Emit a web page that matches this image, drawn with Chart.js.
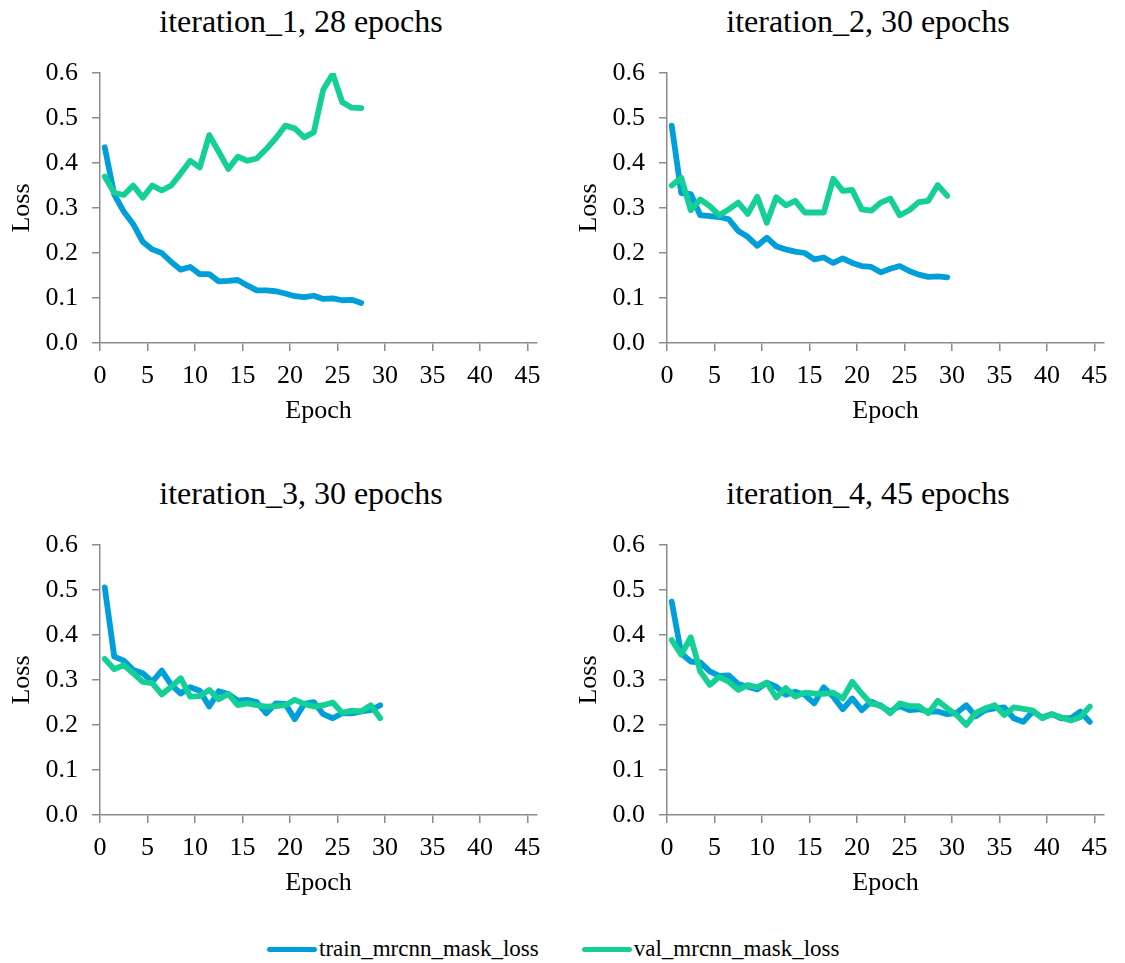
<!DOCTYPE html>
<html>
<head>
<meta charset="utf-8">
<title>Mask loss per iteration</title>
<script src="https://cdn.jsdelivr.net/npm/chart.js@4.4.1/dist/chart.umd.min.js"></script>
<style>
  html, body { margin: 0; padding: 0; background: #fff; overflow: hidden; }
  #page { position: relative; width: 1125px; height: 963px; }
  .panel { position: absolute; }
  .panel-title {
    position: absolute; width: 602px; text-align: center; white-space: nowrap;
    font-family: 'Liberation Serif', 'Times New Roman', serif; font-size: 32px; line-height: 37px; color: #000;
  }
  #legend {
    position: absolute; left: 267px; top: 934px; height: 30px;
    display: flex; justify-content: flex-start; align-items: center; gap: 43px;
    font-family: 'Liberation Serif', 'Times New Roman', serif; font-size: 23px; color: #000;
  }
  #legend .item { display: flex; align-items: center; }
  #legend .swatch { width: 50px; height: 5px; border-radius: 3px; margin-right: 2px; }
</style>
</head>
<body>
<div id="page">
  <div id="t1" class="panel-title" style="left:0;top:3px"></div>
  <div id="t2" class="panel-title" style="left:567px;top:3px"></div>
  <div id="t3" class="panel-title" style="left:0;top:475px"></div>
  <div id="t4" class="panel-title" style="left:567px;top:475px"></div>
  <canvas id="c1" class="panel" style="left:0;top:0"></canvas>
  <canvas id="c2" class="panel" style="left:567px;top:0"></canvas>
  <canvas id="c3" class="panel" style="left:0;top:472px"></canvas>
  <canvas id="c4" class="panel" style="left:567px;top:472px"></canvas>
  <div id="legend"></div>
</div>
<script>
// loss per epoch for each training iteration
const seriesNames = ['train_mrcnn_mask_loss', 'val_mrcnn_mask_loss'];
const seriesColors = ['#009fda', '#14cf96'];
const panelTitles = ['iteration_1, 28 epochs', 'iteration_2, 30 epochs', 'iteration_3, 30 epochs', 'iteration_4, 45 epochs'];
const epochTicks = [0, 5, 10, 15, 20, 25, 30, 35, 40, 45];

const iter1Train = [0.435, 0.33, 0.292, 0.264, 0.225, 0.208, 0.200, 0.180, 0.163, 0.169, 0.153, 0.153, 0.137, 0.138,
                    0.140, 0.128, 0.117, 0.117, 0.115, 0.110, 0.104, 0.102, 0.105, 0.098, 0.099, 0.095, 0.096, 0.089];
const iter1Val = [0.370, 0.334, 0.329, 0.350, 0.323, 0.350, 0.339, 0.350, 0.377, 0.405, 0.390, 0.462, 0.425, 0.387,
                  0.414, 0.405, 0.410, 0.431, 0.455, 0.483, 0.477, 0.457, 0.468, 0.563, 0.598, 0.535, 0.523, 0.522];

const iter2Train = [0.483, 0.333, 0.331, 0.284, 0.282, 0.280, 0.275, 0.249, 0.236, 0.216, 0.234, 0.215, 0.208, 0.203, 0.200,
                    0.186, 0.190, 0.178, 0.188, 0.178, 0.171, 0.169, 0.157, 0.165, 0.171, 0.160, 0.152, 0.147, 0.148, 0.146];
const iter2Val = [0.350, 0.367, 0.295, 0.319, 0.304, 0.284, 0.297, 0.312, 0.287, 0.325, 0.267, 0.324, 0.306, 0.316, 0.290,
                  0.290, 0.290, 0.365, 0.338, 0.340, 0.297, 0.294, 0.312, 0.321, 0.284, 0.295, 0.313, 0.316, 0.351, 0.327];

const iter3Train = [0.506, 0.352, 0.343, 0.322, 0.315, 0.296, 0.321, 0.289, 0.270, 0.284, 0.276, 0.241, 0.275, 0.269, 0.254,
                    0.256, 0.251, 0.226, 0.248, 0.247, 0.213, 0.247, 0.251, 0.224, 0.215, 0.226, 0.226, 0.230, 0.233, 0.244];
const iter3Val = [0.347, 0.324, 0.333, 0.315, 0.296, 0.293, 0.268, 0.285, 0.304, 0.263, 0.264, 0.278, 0.257, 0.269, 0.244,
                  0.248, 0.244, 0.241, 0.242, 0.244, 0.256, 0.247, 0.241, 0.244, 0.250, 0.227, 0.232, 0.230, 0.244, 0.215];

const iter4Train = [0.474, 0.359, 0.341, 0.339, 0.319, 0.309, 0.310, 0.291, 0.285, 0.279,
                    0.294, 0.285, 0.267, 0.274, 0.267, 0.248, 0.284, 0.263, 0.235, 0.259,
                    0.233, 0.252, 0.242, 0.230, 0.242, 0.233, 0.235, 0.230, 0.230, 0.224,
                    0.227, 0.244, 0.219, 0.233, 0.237, 0.239, 0.215, 0.207, 0.230, 0.217,
                    0.224, 0.215, 0.215, 0.230, 0.207];
const iter4Val = [0.389, 0.356, 0.395, 0.319, 0.289, 0.307, 0.296, 0.278, 0.289, 0.284,
                  0.294, 0.261, 0.282, 0.263, 0.272, 0.270, 0.269, 0.272, 0.259, 0.296,
                  0.270, 0.247, 0.244, 0.226, 0.248, 0.242, 0.242, 0.226, 0.254, 0.237,
                  0.222, 0.200, 0.227, 0.237, 0.244, 0.222, 0.239, 0.236, 0.232, 0.215,
                  0.224, 0.217, 0.210, 0.217, 0.241];

const FONT = "'Liberation Serif', 'Times New Roman', serif";
const AXIS_GREY = '#8c8c8c';
const PANEL_W = 562;
const PANEL_H = 440;

// each epoch is plotted in the middle of its unit on the epoch axis
const toPoints = (values) => values.map((v, i) => ({ x: i + 0.5, y: v }));

const lineDataset = (label, values, color, order) => ({
    label: label,
    data: toPoints(values),
    borderColor: color,
    backgroundColor: color,
    borderWidth: 5.8,
    borderCapStyle: 'round',
    borderJoinStyle: 'round',
    pointRadius: 0,
    tension: 0,
    fill: false,
    order: order
});

const axisGrid = {
    drawOnChartArea: false,
    drawTicks: true,
    tickLength: 8,
    color: AXIS_GREY,
    lineWidth: 1.5
};

const makePanel = (canvasId, title, train, val) => {
    const canvas = document.getElementById(canvasId);
    canvas.width = PANEL_W;
    canvas.height = PANEL_H;
    return new Chart(canvas, {
        type: 'line',
        data: {
            datasets: [
                lineDataset(seriesNames[0], train, seriesColors[0], 1),
                lineDataset(seriesNames[1], val, seriesColors[1], 0)
            ]
        },
        options: {
            responsive: false,
            animation: false,
            devicePixelRatio: 1,
            layout: { padding: { left: 0, right: 25, top: 73, bottom: 0 } },
            plugins: {
                legend: { display: false },
                tooltip: { enabled: false },
                title: { display: false }
            },
            scales: {
                x: {
                    type: 'linear',
                    min: 0,
                    max: 46,
                    afterBuildTicks: (scale) => {
                        scale.ticks = epochTicks.map(v => ({ value: v }));
                    },
                    afterFit: (scale) => { scale.height = 97; },
                    ticks: {
                        color: '#000',
                        padding: 9.5,
                        maxRotation: 0,
                        font: { family: FONT, size: 26, lineHeight: 1.2 }
                    },
                    grid: axisGrid,
                    border: { display: true, color: AXIS_GREY, width: 1.5 },
                    title: {
                        display: true,
                        text: 'Epoch',
                        color: '#000',
                        font: { family: FONT, size: 26, lineHeight: 1.2 },
                        padding: { top: 0, bottom: 13 }
                    }
                },
                y: {
                    type: 'linear',
                    min: 0,
                    max: 0.6,
                    afterFit: (scale) => { scale.width = 100; },
                    ticks: {
                        stepSize: 0.1,
                        color: '#000',
                        padding: 14,
                        callback: (v) => v.toFixed(1),
                        font: { family: FONT, size: 26, lineHeight: 1.2 }
                    },
                    grid: axisGrid,
                    border: { display: true, color: AXIS_GREY, width: 1.5 },
                    title: {
                        display: true,
                        text: 'Loss',
                        color: '#000',
                        font: { family: FONT, size: 26, lineHeight: 1.2 },
                        padding: { top: 6.4, bottom: 0 }
                    }
                }
            }
        }
    });
};

const panels = [
    ['c1', 't1', iter1Train, iter1Val],
    ['c2', 't2', iter2Train, iter2Val],
    ['c3', 't3', iter3Train, iter3Val],
    ['c4', 't4', iter4Train, iter4Val]
];
panels.forEach(([canvasId, titleId, train, val], i) => {
    document.getElementById(titleId).textContent = panelTitles[i];
    makePanel(canvasId, panelTitles[i], train, val);
});

// shared legend under the four panels
const legend = document.getElementById('legend');
seriesNames.forEach((name, i) => {
    const item = document.createElement('div');
    item.className = 'item';
    const swatch = document.createElement('span');
    swatch.className = 'swatch';
    swatch.style.background = seriesColors[i];
    const text = document.createElement('span');
    text.textContent = name;
    item.appendChild(swatch);
    item.appendChild(text);
    legend.appendChild(item);
});
</script>
</body>
</html>
